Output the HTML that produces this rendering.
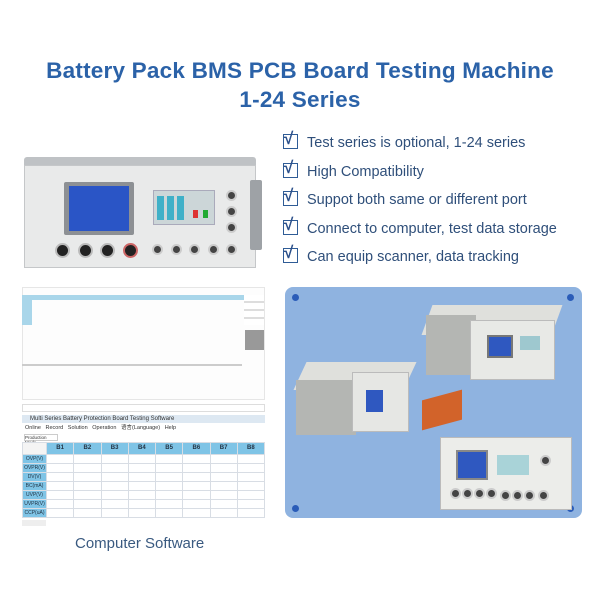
<!DOCTYPE html>
<html><head><meta charset="utf-8"><style>
*{margin:0;padding:0;box-sizing:border-box}
body{width:600px;height:600px;background:#fff;position:relative;overflow:hidden;font-family:"Liberation Sans",sans-serif}
.a{position:absolute}
.t{color:#2b62a8;font-weight:bold;font-size:22px;text-align:center;left:0;width:600px;transform:scaleX(1.024);letter-spacing:0.2px}
.f{left:283px;font-size:14.5px;color:#2f4f7a;white-space:nowrap}
.f span.c{display:inline-block;width:15px;height:15px;border:1.5px solid #2f5c96;vertical-align:-2px;margin-right:9px;position:relative}
.f span.c:after{content:"√";position:absolute;left:0px;top:-6px;font-size:17px;font-weight:bold;color:#2a4f8a}
.kn{position:absolute;width:15px;height:15px;border-radius:50%;background:#222;border:2px solid #bbb}
.sk{position:absolute;width:11px;height:11px;border-radius:50%;background:#444;border:2px solid #ccc}
.grid td{border:1px solid #d8dde4;height:9px;padding:0;line-height:7px}
.hd td{background:#7fc4e6;color:#234;font-size:6px;font-weight:bold;text-align:center;height:12px}
.grid td.l{background:#7fc4e6;color:#234;font-size:5px;text-align:center}
</style></head><body>
<div class="a t" style="top:58px">Battery Pack BMS PCB Board Testing Machine</div>
<div class="a t" style="top:87px">1-24 Series</div>

<div class="a f" style="top:134px"><span class="c"></span>Test series is optional, 1-24 series</div>
<div class="a f" style="top:163px"><span class="c"></span>High Compatibility</div>
<div class="a f" style="top:191px"><span class="c"></span>Suppot both same or different port</div>
<div class="a f" style="top:220px"><span class="c"></span>Connect to computer, test data storage</div>
<div class="a f" style="top:248px"><span class="c"></span>Can equip scanner, data tracking</div>

<!-- front device -->
<div class="a" style="left:24px;top:157px;width:232px;height:10px;background:#bfc2c5;border-radius:3px 3px 0 0"></div>
<div class="a" style="left:24px;top:165px;width:232px;height:103px;background:#e9eaea;border:1px solid #c5c7c9"></div>
<div class="a" style="left:250px;top:180px;width:12px;height:70px;background:#9ea2a6;border-radius:2px"></div>
<div class="a" style="left:64px;top:182px;width:70px;height:53px;background:#8d9094;border-radius:2px"></div>
<div class="a" style="left:69px;top:186px;width:60px;height:45px;background:#2a55c6"></div>
<div class="a" style="left:153px;top:190px;width:62px;height:35px;background:#ccd6d8;border:1px solid #aab"></div>
<div class="a" style="left:157px;top:196px;width:30px;height:24px;background:repeating-linear-gradient(90deg,#3fb0c8 0 7px,transparent 7px 10px)"></div>
<div class="a" style="left:193px;top:210px;width:5px;height:8px;background:#d33"></div>
<div class="a" style="left:203px;top:210px;width:5px;height:8px;background:#2a3"></div>
<div class="kn" style="left:55px;top:243px"></div><div class="kn" style="left:78px;top:243px"></div>
<div class="kn" style="left:100px;top:243px"></div><div class="kn" style="left:123px;top:243px;border-color:#c66"></div>
<div class="sk" style="left:152px;top:244px"></div><div class="sk" style="left:171px;top:244px"></div>
<div class="sk" style="left:189px;top:244px"></div><div class="sk" style="left:208px;top:244px"></div><div class="sk" style="left:226px;top:244px"></div>
<div class="sk" style="left:226px;top:190px"></div><div class="sk" style="left:226px;top:206px"></div><div class="sk" style="left:226px;top:222px"></div>

<!-- software top -->
<div class="a" style="left:22px;top:287px;width:243px;height:113px;background:#fdfdfd;border:1px solid #e6e6e6"></div>
<div class="a" style="left:22px;top:295px;width:222px;height:5px;background:#a9d6ea"></div>
<div class="a" style="left:22px;top:300px;width:10px;height:25px;background:#a9d6ea"></div>
<div class="a" style="left:244px;top:295px;width:20px;height:30px;background:repeating-linear-gradient(#fff 0 6px,#ddd 6px 8px)"></div>
<div class="a" style="left:245px;top:330px;width:19px;height:20px;background:#999"></div>
<div class="a" style="left:22px;top:364px;width:220px;height:2px;background:#ccc"></div>
<div class="a" style="left:22px;top:404px;width:243px;height:8px;border:1px solid #ddd"></div>

<!-- software bottom -->
<div class="a" style="left:22px;top:415px;width:243px;height:8px;background:#dde8f2;font-size:6px;color:#333;padding-left:8px;line-height:8px">Multi Series Battery Protection Board Testing Software</div>
<div class="a" style="left:22px;top:424px;width:243px;font-size:5.5px;color:#333;padding-left:3px;line-height:8px">Online &nbsp; Record &nbsp; Solution &nbsp; Operation &nbsp; 语言(Language) &nbsp; Help</div>
<div class="a" style="left:24px;top:434px;width:34px;height:7px;border:1px solid #ccc;font-size:4.5px;color:#333;line-height:5px">Production Mode</div>
<table class="a grid" style="left:22px;top:442px;width:243px;border-collapse:collapse;font-size:6px">
<tr class="hd"><td style="background:#f4f4f4;width:24px"></td><td>B1</td><td>B2</td><td>B3</td><td>B4</td><td>B5</td><td>B6</td><td>B7</td><td>B8</td></tr>
<tr><td class="l">OVP(V)</td><td></td><td></td><td></td><td></td><td></td><td></td><td></td><td></td></tr>
<tr><td class="l">OVPR(V)</td><td></td><td></td><td></td><td></td><td></td><td></td><td></td><td></td></tr>
<tr><td class="l">DV(V)</td><td></td><td></td><td></td><td></td><td></td><td></td><td></td><td></td></tr>
<tr><td class="l">BC(mA)</td><td></td><td></td><td></td><td></td><td></td><td></td><td></td><td></td></tr>
<tr><td class="l">UVP(V)</td><td></td><td></td><td></td><td></td><td></td><td></td><td></td><td></td></tr>
<tr><td class="l">UVPR(V)</td><td></td><td></td><td></td><td></td><td></td><td></td><td></td><td></td></tr>
<tr><td class="l">CCP(uA)</td><td></td><td></td><td></td><td></td><td></td><td></td><td></td><td></td></tr>
</table>
<div class="a" style="left:22px;top:520px;width:24px;height:6px;background:#eee"></div>
<div class="a" style="left:75px;top:535px;font-size:15px;color:#3a5a80">Computer Software</div>

<!-- blue panel -->
<div class="a" style="left:285px;top:287px;width:297px;height:231px;background:#8fb3e0;border-radius:8px"></div>
<div class="a" style="left:292px;top:294px;width:7px;height:7px;border-radius:50%;background:#2a5cb8"></div>
<div class="a" style="left:567px;top:294px;width:7px;height:7px;border-radius:50%;background:#2a5cb8"></div>
<div class="a" style="left:292px;top:505px;width:7px;height:7px;border-radius:50%;background:#2a5cb8"></div>
<div class="a" style="left:567px;top:505px;width:7px;height:7px;border-radius:50%;background:#2a5cb8"></div>
<!-- device 1 -->
<div class="a" style="left:427px;top:305px;width:130px;height:30px;background:#dfe0dc;transform:skewX(-20deg)"></div>
<div class="a" style="left:426px;top:315px;width:50px;height:60px;background:#b4b6b3"></div>
<div class="a" style="left:470px;top:320px;width:85px;height:60px;background:#e8e9e6;border:1px solid #bbb"></div>
<div class="a" style="left:487px;top:335px;width:26px;height:23px;background:#2f58c0;border:2px solid #777"></div>
<div class="a" style="left:520px;top:336px;width:20px;height:14px;background:#9ec8cf"></div>
<!-- device 2 -->
<div class="a" style="left:300px;top:362px;width:110px;height:28px;background:#dfe0dc;transform:skewX(-25deg)"></div>
<div class="a" style="left:296px;top:380px;width:60px;height:55px;background:#b4b6b3"></div>
<div class="a" style="left:352px;top:372px;width:57px;height:60px;background:#e6e7e4;border:1px solid #bbb"></div>
<div class="a" style="left:366px;top:390px;width:17px;height:22px;background:#2f58c0"></div>
<div class="a" style="left:422px;top:395px;width:40px;height:30px;background:#d2632a;transform:skewY(-15deg)"></div>
<!-- device 3 -->
<div class="a" style="left:440px;top:437px;width:132px;height:73px;background:#ecedea;border:1px solid #bbb"></div>
<div class="a" style="left:456px;top:450px;width:32px;height:30px;background:#2f58c0;border:2px solid #888"></div>
<div class="a" style="left:497px;top:455px;width:32px;height:20px;background:#a9d3d8"></div>
<div class="sk" style="left:450px;top:488px"></div><div class="sk" style="left:462px;top:488px"></div><div class="sk" style="left:474px;top:488px"></div><div class="sk" style="left:486px;top:488px"></div>
<div class="sk" style="left:500px;top:490px"></div><div class="sk" style="left:512px;top:490px"></div><div class="sk" style="left:524px;top:490px"></div><div class="sk" style="left:538px;top:490px"></div><div class="sk" style="left:540px;top:455px"></div>
</body></html>
